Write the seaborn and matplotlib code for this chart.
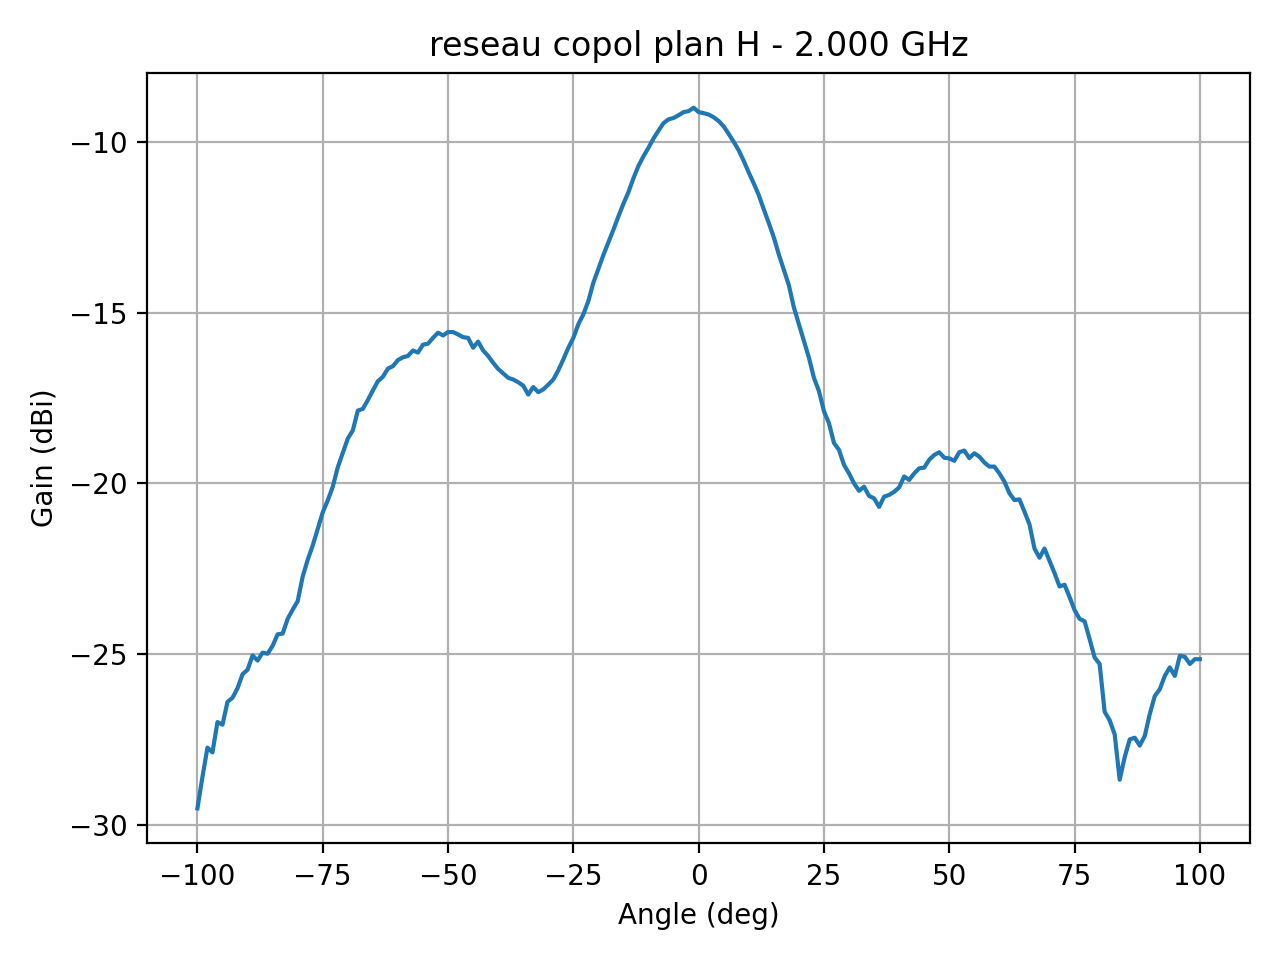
import numpy as np
import pandas as pd
import seaborn as sns
import matplotlib
matplotlib.use('Agg')
import matplotlib.pyplot as plt

angles = np.arange(-100, 101, 1)

gain_left = [
    -29.52, -28.60, -27.74, -27.88, -26.99, -27.07, -26.40, -26.28, -26.00, -25.59,
    -25.46, -25.04, -25.19, -24.96, -24.99, -24.76, -24.42, -24.40, -23.97, -23.70,
    -23.45, -22.73, -22.24, -21.82, -21.34, -20.85, -20.50, -20.10, -19.53, -19.11,
    -18.69, -18.45, -17.87, -17.82, -17.56, -17.28, -17.01, -16.88, -16.64, -16.57,
    -16.39, -16.31, -16.27, -16.11, -16.17, -15.94, -15.91, -15.74, -15.59, -15.67,
]  # -100 .. -51

gain_mid = [
    -15.57, -15.57, -15.64, -15.72, -15.74, -16.03, -15.85, -16.11, -16.27, -16.47,
    -16.65, -16.78, -16.91, -16.96, -17.04, -17.14, -17.40, -17.18, -17.33, -17.25,
    -17.11, -16.96, -16.69, -16.37, -16.03, -15.74, -15.34, -15.05, -14.66, -14.12,
    -13.72, -13.31, -12.94, -12.57, -12.18, -11.81, -11.47, -11.06, -10.70, -10.42,
    -10.17, -9.90, -9.67, -9.45, -9.34, -9.30, -9.22, -9.13, -9.10, -9.00,
]  # -50 .. -1

gain_right = [
    -9.13, -9.16, -9.20, -9.28, -9.39, -9.55, -9.77, -10.00, -10.25, -10.56,
    -10.90, -11.22, -11.56, -11.98, -12.38, -12.80, -13.30, -13.75, -14.20, -14.85,
    -15.34, -15.83, -16.32, -16.91, -17.30, -17.89, -18.24, -18.82, -19.02, -19.46,
    -19.71, -20.00, -20.22, -20.10, -20.37, -20.44, -20.69, -20.39, -20.34, -20.25,
    -20.12, -19.80, -19.90, -19.71, -19.56, -19.54, -19.31, -19.17, -19.09, -19.25,
]  # 0 .. 49

gain_far = [
    -19.27, -19.34, -19.09, -19.04, -19.26, -19.12, -19.22, -19.39, -19.51, -19.51,
    -19.71, -19.95, -20.29, -20.49, -20.47, -20.83, -21.20, -21.91, -22.18, -21.91,
    -22.27, -22.63, -23.02, -22.97, -23.33, -23.71, -23.97, -24.04, -24.56, -25.10,
    -25.29, -26.69, -26.94, -27.35, -28.68, -28.02, -27.50, -27.45, -27.68, -27.40,
    -26.76, -26.23, -26.03, -25.64, -25.39, -25.64, -25.05, -25.08, -25.29, -25.15,
    -25.15,
]  # 50 .. 100

gain = gain_left + gain_mid + gain_right + gain_far
df = pd.DataFrame({'angle': angles, 'gain': gain})

fig, ax = plt.subplots(figsize=(6.4, 4.8), dpi=200)
sns.lineplot(data=df, x='angle', y='gain', ax=ax, color='#1f77b4')
ax.grid(True)
ax.set_title('reseau copol plan H - 2.000 GHz')
ax.set_xlabel('Angle (deg)')
ax.set_ylabel('Gain (dBi)')
plt.tight_layout()
plt.savefig('out.png')
